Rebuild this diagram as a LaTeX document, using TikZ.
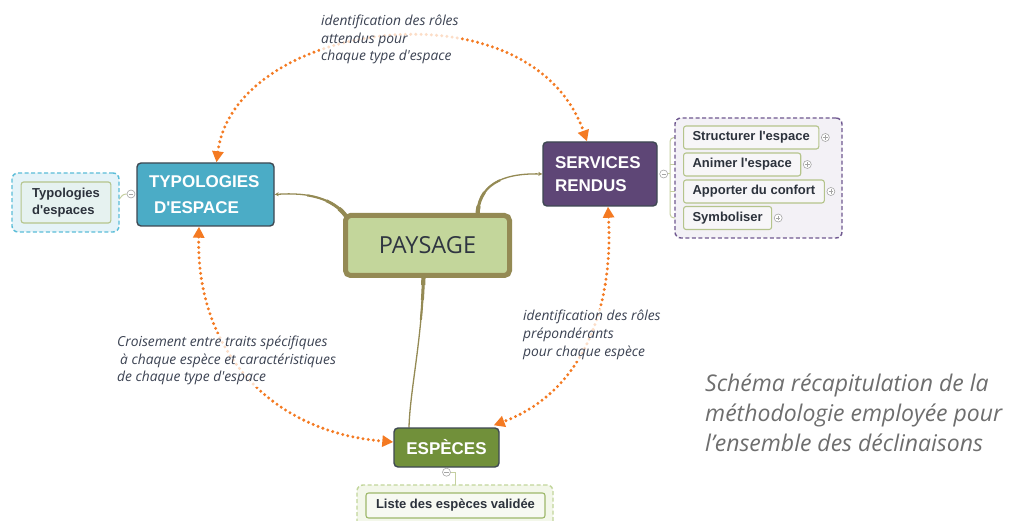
\documentclass[tikz,border=0pt]{standalone}
\usepackage{fontspec}
\setmainfont{Liberation Sans}
\newfontfamily\opensans{Open Sans}
\usetikzlibrary{arrows.meta}
\pgfdeclarelayer{background}
\pgfsetlayers{background,main}

\definecolor{typfill}{HTML}{4BACC6}
\definecolor{srvfill}{HTML}{5E4676}
\definecolor{espfill}{HTML}{71903A}
\definecolor{headline}{HTML}{3E4852}
\definecolor{payfill}{HTML}{C3D69B}
\definecolor{payborder}{HTML}{948A54}
\definecolor{paytext}{HTML}{2F3541}
\definecolor{linkcol}{HTML}{948A54}
\definecolor{dotcol}{HTML}{F47A22}
\definecolor{leafborder}{HTML}{B5C48C}
\definecolor{leaftext}{HTML}{2C323C}
\definecolor{leaffill}{HTML}{F7F6F8}
\definecolor{typdash}{HTML}{5BBDD8}
\definecolor{typgroupfill}{HTML}{E5F3F8}
\definecolor{typleaffill}{HTML}{E6F2F0}
\definecolor{srvdash}{HTML}{6F5890}
\definecolor{srvgroupfill}{HTML}{F3F1F6}
\definecolor{espdash}{HTML}{C2D69B}
\definecolor{espgroupfill}{HTML}{F3F7EA}
\definecolor{espleaffill}{HTML}{F7F9F2}
\definecolor{espleafborder}{HTML}{9DB86A}
\definecolor{togglecol}{HTML}{A5A5A5}
\definecolor{treecol}{HTML}{C5CFA0}
\definecolor{notecol}{HTML}{3B4252}
\definecolor{captioncol}{HTML}{6E6E6E}

\newcommand\apos{\textquotesingle}

\tikzset{
  headbox/.style={rounded corners=4pt, draw=headline, line width=1.4pt, text=white,
    inner xsep=12pt, inner ysep=0pt, align=left},
  leafbox/.style={rounded corners=2.5pt, line width=1.1pt, text=leaftext,
    font=\bfseries\fontsize{13}{17}\selectfont, inner xsep=9pt, inner ysep=0pt,
    minimum height=23pt},
  groupbox/.style={rounded corners=6pt, dash pattern=on 4pt off 2.5pt,
    line width=1.4pt, inner sep=0pt},
  toggle/.style={circle, draw=togglecol, fill=white, line width=0.6pt,
    minimum size=8pt, inner sep=0pt},
  sign/.style={draw=togglecol, line width=0.6pt},
  tree/.style={draw=treecol, line width=1pt},
  link/.style={draw=linkcol, line width=1.3pt, line cap=round,
    preaction={draw=linkcol, arrows=-, line width=2.1pt, dash pattern=on 45pt off 2000pt},
    preaction={draw=linkcol, arrows=-, line width=3pt, dash pattern=on 25pt off 2000pt},
    preaction={draw=linkcol, arrows=-, line width=4.2pt, dash pattern=on 10pt off 2000pt}},
  relation/.style={draw=dotcol, line width=3.3pt, line cap=round,
    dash pattern=on 0pt off 5.2pt,
    {Triangle[length=11pt,width=11pt]}-{Triangle[length=11pt,width=11pt]}},
  note/.style={font=\opensans\itshape\fontsize{13.8}{17.8}\selectfont, text=notecol,
    align=left, inner sep=1.5pt, fill=white, fill opacity=0.75, text opacity=1,
    anchor=north west},
  caption/.style={font=\opensans\itshape\fontsize{23}{30}\selectfont, text=captioncol,
    align=left, inner sep=0pt, anchor=north west},
}

\begin{document}
\begin{tikzpicture}[x=1pt,y=-1pt]
\useasboundingbox (0,0) rectangle (1015,521);
\begin{pgfonlayer}{background}
  \fill[white] (0,0) rectangle (1015,521);
\end{pgfonlayer}

% ---- central topic
\node[draw=payborder, fill=payfill, line width=5pt, rounded corners=5pt,
  minimum width=164pt, minimum height=60pt, inner sep=0pt,
  font=\opensans\fontsize{23.5}{28}\selectfont, text=paytext] (pay) at (427.5,245.5) {PAYSAGE};

% ---- main branches
\node[headbox, fill=typfill, text width=113pt, minimum height=63pt,
  font=\bfseries\fontsize{17}{26}\selectfont] (typ) at (205.5,194.5)
  {TYPOLOGIES\\\hspace*{5pt}D\apos ESPACE};
\node[headbox, fill=srvfill, text width=90pt, minimum height=64pt,
  font=\bfseries\fontsize{17}{23.5}\selectfont] (srv) at (600,174) {SERVICES\\RENDUS};
\node[headbox, fill=espfill, align=center, inner xsep=0pt, minimum width=105pt,
  minimum height=39pt, font=\bfseries\fontsize{17}{20}\selectfont] (esp) at (446.5,447.5) {ESPÈCES};

% ---- typologies detail
\node[groupbox, draw=typdash, fill=typgroupfill, minimum width=107pt,
  minimum height=59pt] (gtyp) at (65.5,202.5) {};
\node[leafbox, draw=leafborder, fill=typleaffill, align=left, inner xsep=11pt,
  minimum height=41pt] (ltyp) at (66,202.5) {Typologies\\d\apos espaces};
\node[toggle] (mtyp) at (131,194) {};

% ---- services detail
\node[groupbox, draw=srvdash, fill=srvgroupfill, minimum width=167pt,
  minimum height=120pt] (gsrv) at (758.5,178) {};
\node[leafbox, draw=leafborder, fill=leaffill, anchor=west] (s1) at (683,137.5) {Structurer l\apos espace};
\node[leafbox, draw=leafborder, fill=leaffill, anchor=west] (s2) at (683,164.5) {Animer l\apos espace};
\node[leafbox, draw=leafborder, fill=leaffill, anchor=west] (s3) at (683,191.5) {Apporter du confort};
\node[leafbox, draw=leafborder, fill=leaffill, anchor=west] (s4) at (683,218) {Symboliser};
\node[toggle] (p1) at ([xshift=6pt]s1.east) {};
\node[toggle] (p2) at ([xshift=6pt]s2.east) {};
\node[toggle] (p3) at ([xshift=6pt]s3.east) {};
\node[toggle] (p4) at ([xshift=6pt]s4.east) {};
\node[toggle] (msrv) at ([xshift=6pt]srv.east) {};
\coordinate (trunk) at (670,174);

% ---- species detail
\node[groupbox, draw=espdash, fill=espgroupfill, minimum width=196pt,
  minimum height=50pt] (gesp) at (455,510) {};
\node[leafbox, draw=espleafborder, fill=espleaffill, inner xsep=10pt,
  minimum height=25pt] (lesp) at (455.5,505.5) {Liste des espèces validée};
\node[toggle] (mesp) at ([yshift=-4.5pt]esp.south) {};

% ---- connectors from the central topic (behind the boxes)
\begin{pgfonlayer}{background}
  \draw[link, -{Stealth[length=4pt,width=4pt]}] ([shift={(3pt,-3pt)}]pay.north west)
    .. controls (333,199) and (310,192) .. (typ.east);
  \draw[link, -{Stealth[length=4pt,width=4pt]}] ([xshift=50pt,yshift=-3pt]pay.north)
    .. controls (478,186) and (500,173) .. (srv.west);
  \draw[link] ([xshift=-4pt,yshift=3pt]pay.south)
    .. controls (422,340) and (410,390) .. ([xshift=-37.5pt]esp.north);
  % tree lines to the detail boxes
  \draw[tree] (ltyp.east) .. controls (121,203) and (119,194) .. (mtyp.west);
  \draw[tree] (msrv) -- (trunk);
  \draw[tree, rounded corners=4pt] (s1.west) -| (trunk) |- (s4.west);
  \draw[tree] (s2.west) -- (s2.west -| trunk);
  \draw[tree] (s3.west) -- (s3.west -| trunk);
  \draw[tree] (mesp) -| (lesp.north);
\end{pgfonlayer}

% ---- signs inside the toggles
\foreach \t in {p1,p2,p3,p4,mtyp,msrv,mesp}
  \draw[sign] ([xshift=-2.2pt]\t.center) -- ([xshift=2.2pt]\t.center);
\foreach \t in {p1,p2,p3,p4}
  \draw[sign] ([yshift=-2.2pt]\t.center) -- ([yshift=2.2pt]\t.center);

% ---- dotted relations between branches
\draw[relation] ([xshift=11pt]typ.north) .. controls (235,20) and (530,-20) .. ([xshift=-13pt]srv.north);
\draw[relation] ([xshift=-6.5pt]typ.south) .. controls (196,350) and (270,432) .. ([yshift=5.5pt]esp.west);
\draw[relation] ([xshift=8pt]srv.south) .. controls (614,320) and (575,395) .. ([xshift=-6pt,yshift=2pt]esp.north east);

% ---- relation labels
\node[note] (n1) at (319.5,13) {identification des rôles\\attendus pour\\chaque type d\apos espace};
\node[note] (n2) at (115.5,334) {Croisement entre traits spécifiques\\\hspace*{3pt}à chaque espèce et caractéristiques\\de chaque type d\apos espace};
\node[note] (n3) at (521.5,308.5) {identification des rôles\\prépondérants\\pour chaque espèce};

% ---- caption
\node[caption] (cap) at (705,374) {Schéma récapitulation de la\\méthodologie employée pour\\l’ensemble des déclinaisons};
\end{tikzpicture}
\end{document}
